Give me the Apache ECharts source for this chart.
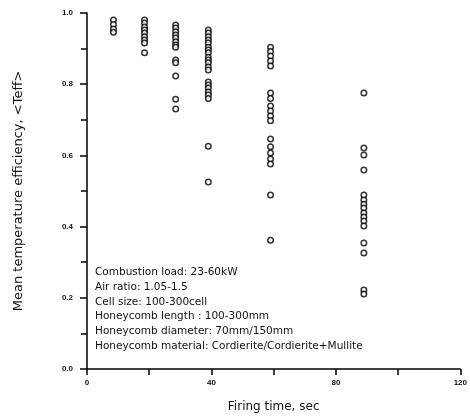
<!DOCTYPE html>
<html>
<head>
<meta charset="utf-8">
<script src="https://cdn.jsdelivr.net/npm/echarts@6/dist/echarts.min.js"></script>
<style>
  html, body { margin: 0; padding: 0; background: #fff; }
  #chart { width: 470px; height: 418px; }
</style>
</head>
<body>
<div id="chart"></div>
<script>
// Firing time (s) of each measurement group
const firingTimes = [8.5, 18.5, 28.5, 39, 59, 89];

// Mean temperature efficiency values measured at each firing time
const effAt10 = [0.980, 0.968, 0.955, 0.946];
const effAt20 = [0.980, 0.972, 0.961, 0.952, 0.944, 0.933, 0.924, 0.916, 0.888];
const effAt30 = [0.966, 0.958, 0.947, 0.938, 0.930, 0.919, 0.910, 0.904, 0.868, 0.860, 0.823, 0.758, 0.730];
const effAt40 = [0.952, 0.944, 0.933, 0.924, 0.916, 0.904, 0.896, 0.888, 0.876, 0.868, 0.860, 0.848, 0.840,
                 0.806, 0.798, 0.789, 0.778, 0.770, 0.760, 0.626, 0.525];
const effAt60 = [0.904, 0.892, 0.879, 0.865, 0.851, 0.775, 0.760, 0.739, 0.725, 0.711, 0.697,
                 0.646, 0.624, 0.607, 0.590, 0.576, 0.489, 0.362];
const effAt90 = [0.775, 0.621, 0.601, 0.559, 0.489, 0.475, 0.463, 0.452, 0.438, 0.427, 0.416, 0.402,
                 0.354, 0.326, 0.222, 0.211];

const groups = [effAt10, effAt20, effAt30, effAt40, effAt60, effAt90];

// Test conditions listed inside the plot
const conditions = [
  'Combustion load: 23-60kW',
  'Air ratio: 1.05-1.5',
  'Cell size: 100-300cell',
  'Honeycomb length : 100-300mm',
  'Honeycomb diameter: 70mm/150mm',
  'Honeycomb material: Cordierite/Cordierite+Mullite'
];

const points = [];
groups.forEach((vals, i) => vals.forEach(v => points.push([firingTimes[i], v])));

const chart = echarts.init(document.getElementById('chart'), null, { renderer: 'canvas' });
const font = 'Liberation Sans, Arial, sans-serif';
const wideFont = 'DejaVu Sans, Arial, sans-serif';

chart.setOption({
  animation: false,
  backgroundColor: '#fff',
  grid: { left: 87, right: 9, top: 13, bottom: 49 },
  xAxis: {
    type: 'value',
    min: 0, max: 120, interval: 20,
    name: 'Firing time, sec',
    nameLocation: 'middle',
    nameGap: 32,
    nameTextStyle: { color: '#111', fontFamily: wideFont, fontSize: 12 },
    axisLine: { lineStyle: { color: '#000', width: 1.5 } },
    axisTick: { show: true, length: 6, lineStyle: { color: '#000', width: 1.5 } },
    axisLabel: {
      color: '#111', fontFamily: font, fontSize: 8, fontWeight: 'bold', margin: 10,
      formatter: v => (v % 40 === 0 ? String(v) : '')
    },
    splitLine: { show: false }
  },
  yAxis: {
    type: 'value',
    min: 0, max: 1, interval: 0.2,
    name: 'Mean temperature efficiency, <Teff>',
    nameLocation: 'middle',
    nameGap: 62,
    nameTextStyle: { color: '#111', fontFamily: wideFont, fontSize: 13 },
    axisLine: { show: true, lineStyle: { color: '#000', width: 1.5 } },
    axisTick: { show: true, length: 7, lineStyle: { color: '#000', width: 1.5 } },
    minorTick: { show: true, splitNumber: 2, length: 6, lineStyle: { color: '#000', width: 1.5 } },
    axisLabel: {
      color: '#111', fontFamily: font, fontSize: 8, fontWeight: 'bold', margin: 14,
      formatter: v => v.toFixed(1)
    },
    splitLine: { show: false }
  },
  series: [{
    type: 'scatter',
    data: points,
    symbol: 'circle',
    symbolSize: 5.5,
    itemStyle: { color: '#fff', borderColor: '#000', borderWidth: 1.5 }
  }],
  graphic: conditions.map((t, i) => ({
    type: 'text',
    left: 95,
    top: 267 + i * 14.7,
    style: { text: t, fill: '#111', font: '10.5px ' + wideFont }
  }))
});
</script>
</body>
</html>
